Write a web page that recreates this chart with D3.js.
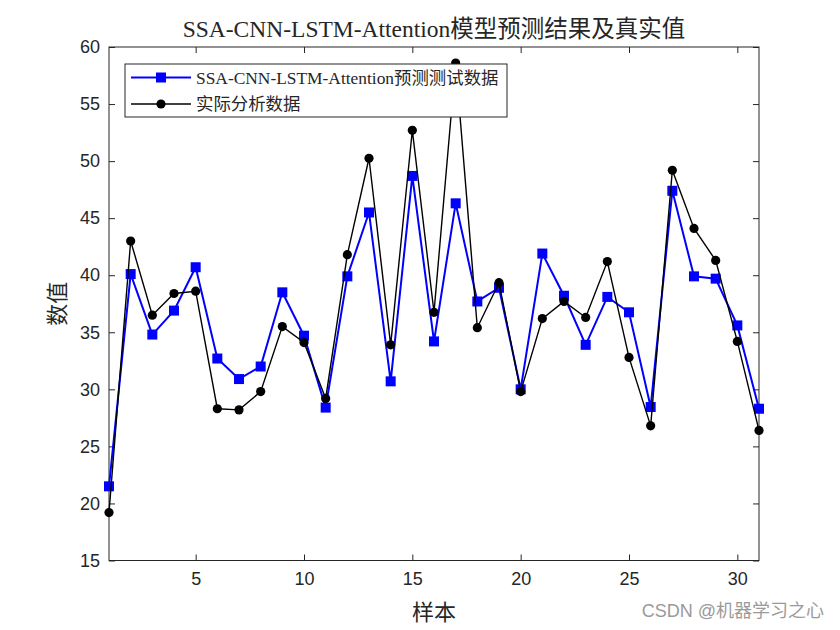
<!DOCTYPE html>
<html>
<head>
<meta charset="utf-8">
<script src="https://cdn.jsdelivr.net/npm/d3@7"></script>
<style>
  body { margin: 0; background: #fff; }
  svg { display: block; }
</style>
</head>
<body>
<svg id="chart" width="840" height="630"></svg>
<script>
const titleText = "SSA-CNN-LSTM-Attention模型预测结果及真实值";
const xLabel = "样本";
const yLabel = "数值";
const seriesNames = ["SSA-CNN-LSTM-Attention预测测试数据", "实际分析数据"];
const samples = d3.range(1, 32);
const predicted = [21.5, 40.1, 34.8, 36.9, 40.7, 32.7, 30.9, 32.0, 38.5, 34.7,
                   28.4, 39.9, 45.5, 30.7, 48.7, 34.2, 46.3, 37.7, 38.9, 30.0,
                   41.9, 38.2, 33.9, 38.1, 36.75, 28.45, 47.4, 39.9, 39.7, 35.6, 28.3];
const actual = [19.2, 43.0, 36.5, 38.4, 38.6, 28.3, 28.2, 29.8, 35.5, 34.1,
                29.2, 41.8, 50.25, 33.9, 52.7, 36.75, 58.6, 35.4, 39.35, 29.8,
                36.2, 37.7, 36.3, 41.2, 32.8, 26.8, 49.2, 44.1, 41.3, 34.2, 26.4];
const xTicks = [5, 10, 15, 20, 25, 30];
const yTicks = [15, 20, 25, 30, 35, 40, 45, 50, 55, 60];
const watermark = "CSDN @机器学习之心";

const svg = d3.select("#chart");
const L = 109, R = 759, T = 47, B = 560.5;
const x = d3.scaleLinear().domain([1, 31]).range([L, R]);
const y = d3.scaleLinear().domain([15, 60]).range([B, T]);

const serif = "'Liberation Serif', 'Times New Roman', 'Noto Sans CJK SC', serif";
const sans = "'Liberation Sans', Arial, 'Noto Sans CJK SC', sans-serif";

// axes box
svg.append("rect").attr("x", L).attr("y", T).attr("width", R - L).attr("height", B - T)
  .attr("fill", "none").attr("stroke", "#262626").attr("stroke-width", 1);

const tickLen = 6;
const axB = svg.append("g").attr("transform", `translate(0,${B})`)
  .call(d3.axisBottom(x).tickValues(xTicks).tickSizeInner(-tickLen).tickSizeOuter(0).tickPadding(12));
const axT = svg.append("g").attr("transform", `translate(0,${T})`)
  .call(d3.axisTop(x).tickValues(xTicks).tickSizeInner(-tickLen).tickSizeOuter(0).tickFormat(""));
const axL = svg.append("g").attr("transform", `translate(${L},0)`)
  .call(d3.axisLeft(y).tickValues(yTicks).tickSizeInner(-tickLen).tickSizeOuter(0).tickPadding(9));
const axR = svg.append("g").attr("transform", `translate(${R},0)`)
  .call(d3.axisRight(y).tickValues(yTicks).tickSizeInner(-tickLen).tickSizeOuter(0).tickFormat(""));
[axB, axT, axL, axR].forEach(a => {
  a.select(".domain").remove();
  a.selectAll("line").attr("stroke", "#262626");
  a.selectAll("text").attr("fill", "#262626").style("font-family", sans).style("font-size", "18px");
});

// lines
const line = d3.line().x((d, i) => x(samples[i])).y(d => y(d));
svg.append("path").datum(predicted).attr("d", line)
  .attr("fill", "none").attr("stroke", "#0000ff").attr("stroke-width", 2);
svg.append("g").selectAll("rect").data(predicted).join("rect")
  .attr("x", (d, i) => x(samples[i]) - 5).attr("y", d => y(d) - 5)
  .attr("width", 10).attr("height", 10).attr("fill", "#0000ff");

svg.append("path").datum(actual).attr("d", line)
  .attr("fill", "none").attr("stroke", "#000").attr("stroke-width", 1.4);
svg.append("g").selectAll("circle").data(actual).join("circle")
  .attr("cx", (d, i) => x(samples[i])).attr("cy", d => y(d)).attr("r", 4.6).attr("fill", "#000");

// legend
const lg = svg.append("g");
lg.append("rect").attr("x", 125).attr("y", 64).attr("width", 382).attr("height", 53)
  .attr("fill", "#fff").attr("stroke", "#262626").attr("stroke-width", 1);
const rows = [
  {name: seriesNames[0], color: "#0000ff", w: 2, shape: "square", yy: 77.5},
  {name: seriesNames[1], color: "#000", w: 1.4, shape: "circle", yy: 104}
];
rows.forEach(r => {
  lg.append("line").attr("x1", 131).attr("x2", 191).attr("y1", r.yy).attr("y2", r.yy)
    .attr("stroke", r.color).attr("stroke-width", r.w);
  if (r.shape === "square") {
    lg.append("rect").attr("x", 161 - 5).attr("y", r.yy - 5).attr("width", 10).attr("height", 10).attr("fill", r.color);
  } else {
    lg.append("circle").attr("cx", 161).attr("cy", r.yy).attr("r", 4.6).attr("fill", r.color);
  }
  lg.append("text").attr("x", 196).attr("y", r.yy).attr("dy", "0.35em")
    .style("font-family", serif).style("font-size", "17.4px").attr("fill", "#262626").text(r.name);
});

// title and labels
svg.append("text").attr("x", (L + R) / 2).attr("y", 37).attr("text-anchor", "middle")
  .style("font-family", serif).style("font-size", "23.5px").attr("fill", "#262626").text(titleText);
svg.append("text").attr("x", (L + R) / 2).attr("y", 620).attr("text-anchor", "middle")
  .style("font-family", serif).style("font-size", "22px").attr("fill", "#262626").text(xLabel);
svg.append("text").attr("transform", `translate(65,${(T + B) / 2}) rotate(-90)`).attr("text-anchor", "middle")
  .style("font-family", serif).style("font-size", "22px").attr("fill", "#262626").text(yLabel);

svg.append("text").attr("x", 824).attr("y", 617).attr("text-anchor", "end")
  .style("font-family", sans).style("font-size", "18px").attr("fill", "#9a9a9a").text(watermark);
</script>
</body>
</html>
